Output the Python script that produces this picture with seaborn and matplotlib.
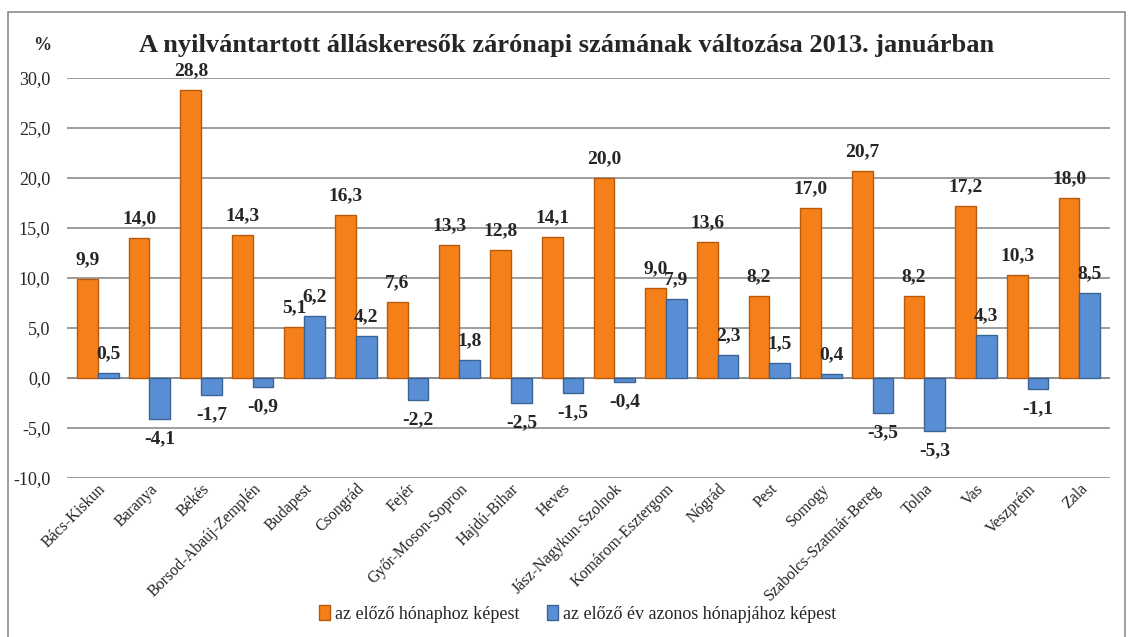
import pandas as pd
import matplotlib.pyplot as plt
import seaborn as sns
from matplotlib.patches import Rectangle, Patch

counties = ['Bács-Kiskun', 'Baranya', 'Békés', 'Borsod-Abaúj-Zemplén', 'Budapest',
            'Csongrád', 'Fejér', 'Győr-Moson-Sopron', 'Hajdú-Bihar', 'Heves',
            'Jász-Nagykun-Szolnok', 'Komárom-Esztergom', 'Nógrád', 'Pest', 'Somogy',
            'Szabolcs-Szatmár-Bereg', 'Tolna', 'Vas', 'Veszprém', 'Zala']
prev_month = [9.9, 14.0, 28.8, 14.3, 5.1, 16.3, 7.6, 13.3, 12.8, 14.1,
              20.0, 9.0, 13.6, 8.2, 17.0, 20.7, 8.2, 17.2, 10.3, 18.0]
prev_year = [0.5, -4.1, -1.7, -0.9, 6.2, 4.2, -2.2, 1.8, -2.5, -1.5,
             -0.4, 7.9, 2.3, 1.5, 0.4, -3.5, -5.3, 4.3, -1.1, 8.5]
series_names = ['az előző hónaphoz képest', 'az előző év azonos hónapjához képest']
yticks = [-10, -5, 0, 5, 10, 15, 20, 25, 30]

df = pd.DataFrame({
    'megye': counties * 2,
    'valtozas': prev_month + prev_year,
    'sorozat': [series_names[0]] * len(counties) + [series_names[1]] * len(counties),
})

sns.set_style('white')
plt.rcParams['font.family'] = ['Liberation Serif', 'DejaVu Serif']

colors = ['#F5801A', '#5A8ED4']
edges = ['#B85A0A', '#3A6396']

fig = plt.figure(figsize=(11.33, 6.37), dpi=100)
ax = fig.add_axes([0.059, 0.2496, 0.921, 0.628])

sns.barplot(data=df, x='megye', y='valtozas', hue='sorozat', palette=colors,
            width=0.8, ax=ax, legend=False, saturation=1)

for cont, ec in zip(ax.containers, edges):
    for bar in cont:
        bar.set_edgecolor(ec)
        bar.set_linewidth(1.0)
    labels = [f'{v:.1f}'.replace('.', ',') for v in cont.datavalues]
    ax.bar_label(cont, labels=labels, padding=8, fontsize=14, fontweight='bold')

ax.set_ylim(-10, 30)
ax.set_yticks(yticks)
ax.set_yticklabels([f'{t:.1f}'.replace('.', ',') for t in yticks], fontsize=13)
ax.tick_params(axis='y', length=0, pad=12)
ax.tick_params(axis='x', length=0, pad=2)
ax.set_xlim(-0.6, len(counties) - 0.4)
plt.setp(ax.get_xticklabels(), rotation=45, ha='right', rotation_mode='anchor', fontsize=11.5)
ax.set_xlabel('')
ax.set_ylabel('')
ax.yaxis.grid(True, color='#8C8C8C', linewidth=1.2)
ax.set_axisbelow(True)
for s in ax.spines.values():
    s.set_visible(False)
ax.axhline(0, color='#8C8C8C', linewidth=1.2, zorder=0.5)

fig.text(0.5, 0.928, 'A nyilvántartott álláskeresők zárónapi számának változása 2013. januárban',
         ha='center', va='center', fontsize=19, fontweight='bold')
fig.text(0.037, 0.928, '%', ha='center', va='center', fontsize=13, fontweight='bold')

handles = [Patch(facecolor=c, edgecolor=e) for c, e in zip(colors, edges)]
fig.legend(handles, series_names, loc='center', bbox_to_anchor=(0.51, 0.036), ncol=2,
           frameon=False, fontsize=13, handlelength=0.6, handleheight=0.9,
           handletextpad=0.3, columnspacing=1.5)

fig.patches.append(Rectangle((8 / 1133, -0.01), 1117 / 1133, 1 - 12 / 637 + 0.01,
                             transform=fig.transFigure, fill=False,
                             edgecolor='#8C8C8C', linewidth=1.2))

plt.savefig('out.png', dpi=100)
